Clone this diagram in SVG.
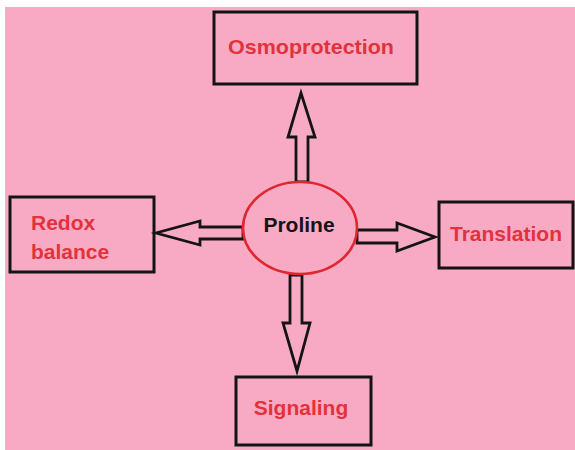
<svg xmlns="http://www.w3.org/2000/svg" width="575" height="450" viewBox="0 0 575 450">
<style>
.box{fill:none;stroke:#141414;stroke-width:3}
.arr{fill:#f8aac4;stroke:#141414;stroke-width:2.8;stroke-linejoin:miter}
.lbl{font-family:"Liberation Sans",Arial,sans-serif;font-weight:bold;font-size:21px;fill:#e2323c}
.ctr{text-anchor:middle}
</style>
<rect x="0" y="0" width="575" height="450" fill="#ffffff"/>
<rect x="5" y="7" width="570" height="443" fill="#f8aac4"/>
<g id="connectors">
<polygon class="arr" points="296,182 296,137 288,137 301,93 315,137 308,137 308,182"/>
<polygon class="arr" points="243,227 200,227 200,221 156,233 200,245 200,239 243,239"/>
<polygon class="arr" points="357,230 397,230 397,223 435,237 397,251 397,243 357,243"/>
<polygon class="arr" points="290,275 302,275 302,323 310,323 297,371 283,323 290,323"/>
</g>
<g id="proline">
<ellipse cx="300" cy="228" rx="57" ry="46" fill="#f8aac4" stroke="#e0262f" stroke-width="2.6"/>
<text class="ctr" x="299" y="232" style="font-family:'Liberation Sans',Arial,sans-serif;font-weight:bold;font-size:21px;fill:#141414">Proline</text>
</g>
<g id="osmoprotection">
<rect class="box" x="214" y="12" width="203" height="72"/>
<text class="lbl ctr" x="311" y="54" textLength="166" lengthAdjust="spacingAndGlyphs">Osmoprotection</text>
</g>
<g id="redox">
<rect class="box" x="10" y="197" width="144" height="75"/>
<text class="lbl" x="31" y="230">Redox</text>
<text class="lbl" x="31" y="259">balance</text>
</g>
<g id="translation">
<rect class="box" x="439" y="202" width="134" height="66"/>
<text class="lbl ctr" x="506" y="241">Translation</text>
</g>
<g id="signaling">
<rect class="box" x="236" y="377" width="135" height="68"/>
<text class="lbl ctr" x="301" y="415">Signaling</text>
</g>
</svg>
